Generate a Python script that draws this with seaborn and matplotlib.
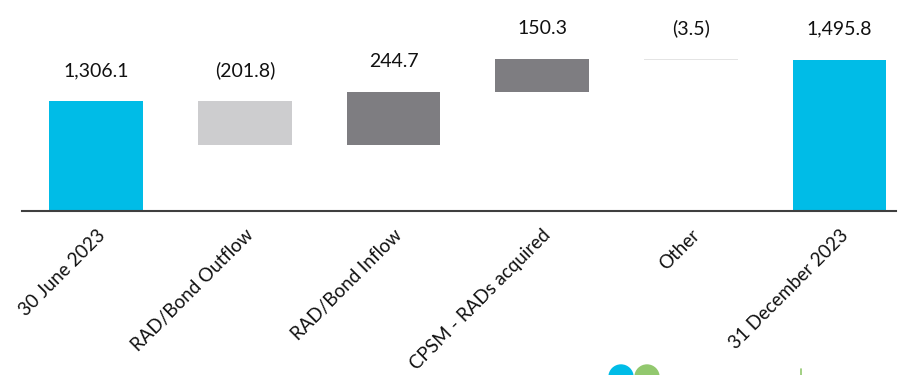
import numpy as np
import pandas as pd
import matplotlib
matplotlib.use("Agg")
import matplotlib.pyplot as plt
from matplotlib.patches import Circle
from matplotlib.lines import Line2D
import seaborn as sns

# Bridge of the balance between the two reporting dates
categories = ["30 June 2023", "RAD/Bond Outflow", "RAD/Bond Inflow",
              "CPSM - RADs acquired", "Other", "31 December 2023"]
opening = 1306.1
movements = [-201.8, 244.7, 150.3, -3.5]
closing = 1495.8
bar_colors = ["#00BCE7", "#CDCDCF", "#7E7D81", "#7E7D81", "#E4E4E4", "#00BCE7"]

# Floating segments: each movement starts where the previous one ended
running = opening + np.concatenate([[0.0], np.cumsum(movements)])
starts = np.concatenate([[0.0], running[:-1], [0.0]])
ends = np.concatenate([[opening], running[1:], [closing]])
values = [opening] + movements + [closing]

df = pd.DataFrame({"category": categories, "top": np.maximum(starts, ends),
                   "bottom": np.where(starts == 0, 0, np.minimum(starts, ends)),
                   "value": values})

sns.set_theme(style="white")
plt.rcParams["font.family"] = ["Lato", "DejaVu Sans"]

fig = plt.figure(figsize=(9, 3.75), dpi=100)
ax = fig.add_axes([22 / 900, 1 - 211 / 375, 874 / 900, 211 / 375])

sns.barplot(data=df, x="category", y="top", hue="category",
            palette=bar_colors, width=0.63, legend=False, ax=ax,
            saturation=1, linewidth=0)

# Lift each bar onto its running base
for patch, lo, hi in zip(ax.patches, df["bottom"], df["top"]):
    patch.set_y(lo)
    patch.set_height(max(hi - lo, 5))

ax.set_ylim(800, 800 + 211 / 0.2173)
ax.set_xlim(-0.5, 5.38)


def fmt(v):
    return f"({abs(v):,.1f})" if v < 0 else f"{v:,.1f}"


for i, row in df.iterrows():
    ax.annotate(fmt(row["value"]), (i, row["top"]), xytext=(0, 18),
                textcoords="offset points", ha="center", va="baseline",
                fontsize=14, color="#111111")

for s in ["top", "right", "left"]:
    ax.spines[s].set_visible(False)
ax.spines["bottom"].set_color("#3F3F3F")
ax.spines["bottom"].set_linewidth(1.5)
ax.set_yticks([])
ax.set_xlabel("")
ax.set_ylabel("")
ax.tick_params(axis="x", length=0, pad=11)
ax.set_xticks(range(len(categories)))
ax.set_xticklabels(categories, rotation=45, ha="right",
                   rotation_mode="anchor", fontsize=13.5, color="#111111")

# Brand marks along the bottom edge
fig.patches.append(Circle((621, -2), 12, transform=None, color="#00BCE7"))
fig.patches.append(Circle((647, -2), 12, transform=None, color="#92C86E"))
fig.lines.append(Line2D([800.5, 800.5], [0, 6], transform=None,
                        color="#92C86E", lw=1.2))

fig.savefig("out.png", dpi=100)
